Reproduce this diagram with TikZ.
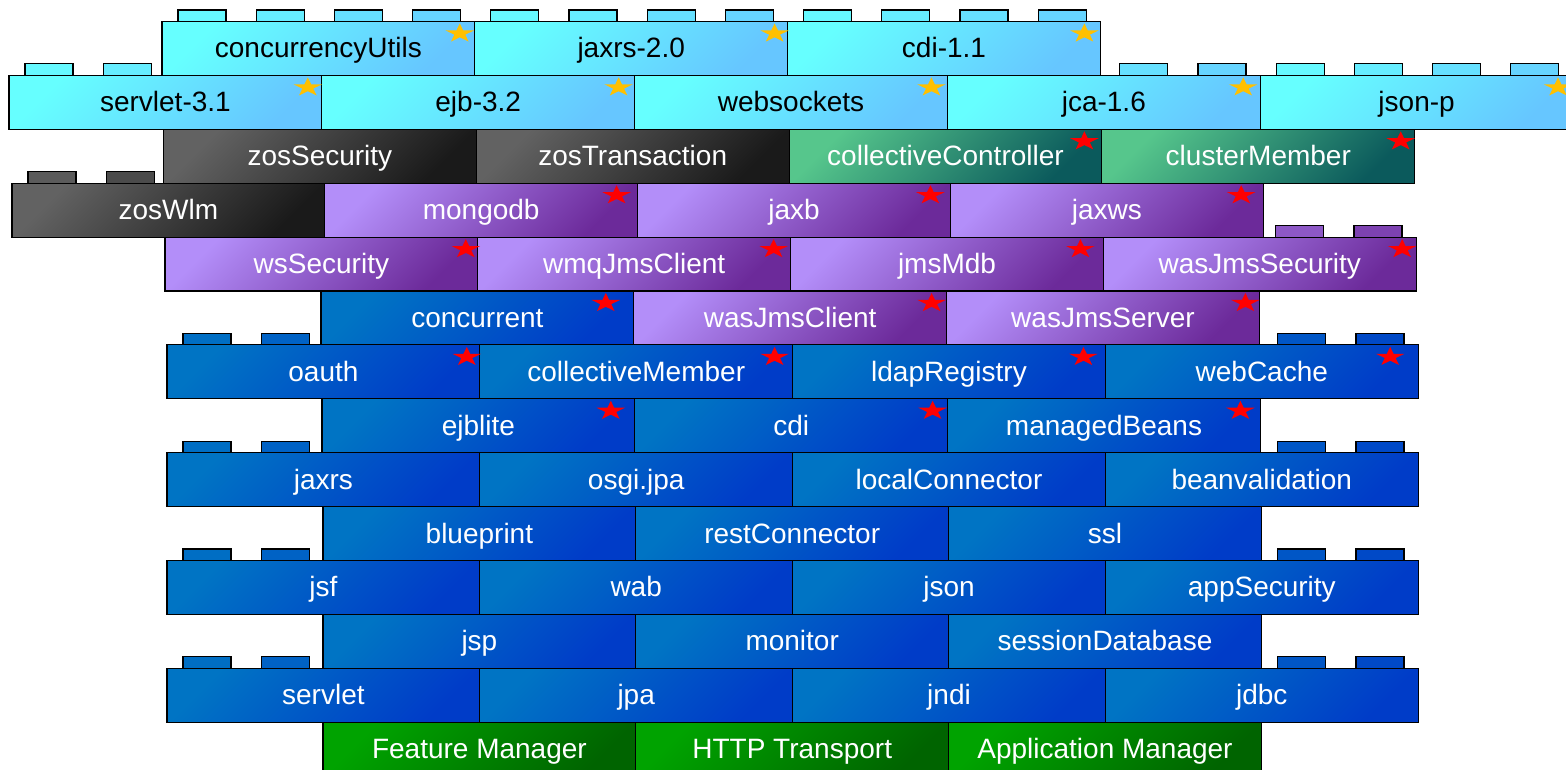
\documentclass[tikz,border=0pt]{standalone}
\usepackage{fontspec}
\setmainfont{Liberation Sans}
\definecolor{cyL}{HTML}{66FFFF}\definecolor{cyD}{HTML}{66C6FF}
\definecolor{grL}{HTML}{626262}\definecolor{grD}{HTML}{1A1A1A}
\definecolor{tlL}{HTML}{56C68C}\definecolor{tlD}{HTML}{0B5A5C}
\definecolor{puL}{HTML}{B38EF9}\definecolor{puD}{HTML}{6C2A9A}
\definecolor{blL}{HTML}{0074C4}\definecolor{blD}{HTML}{003CC8}
\definecolor{gnL}{HTML}{00A300}\definecolor{gnD}{HTML}{006400}
\definecolor{starY}{HTML}{FFC000}\definecolor{starR}{HTML}{FF0000}
\tikzset{
  brick/.style={draw=black, line width=1.1pt, minimum width=312.8pt, minimum height=53.9pt,
    anchor=north west, inner sep=0pt, outer sep=0pt, font=\fontsize{28}{30}\selectfont,
    text height=23pt, text depth=4pt, text=white},
  cyanb/.style={brick, top color=cyL, bottom color=cyD, shading angle=45, text=black},
  grayb/.style={brick, top color=grL, bottom color=grD, shading angle=45},
  tealb/.style={brick, top color=tlL, bottom color=tlD, shading angle=45},
  purpb/.style={brick, top color=puL, bottom color=puD, shading angle=45},
  blueb/.style={brick, top color=blL, bottom color=blD, shading angle=45},
  greenb/.style={brick, top color=gnL, bottom color=gnD, shading angle=45},
  studbox/.style={draw=black, line width=1.1pt},
  starshape/.pic={\fill[pic actions] (270:15 and 10) -- (306:5.73 and 3.82) -- (342:15 and 10)
     -- (18:5.73 and 3.82) -- (54:15 and 10) -- (90:5.73 and 3.82) -- (126:15 and 10)
     -- (162:5.73 and 3.82) -- (198:15 and 10) -- (234:5.73 and 3.82) -- cycle;},
}
\newcommand\studs[5]{%
  \foreach \i in {#3} {
    \pgfmathsetmacro\sx{#2+16+78.2*\i}
    \pgfmathtruncatemacro\pc{10+22*\i}
    \draw[studbox, fill=#5!\pc!#4] (\sx,#1) rectangle ++(48,-11.5);
  }%
}
\newcommand\brickrow[3]{%
  \foreach \nm/\lb/\st/\sc/\so [count=\c from 0] in {#3} {
    \pgfmathsetmacro\bx{#2+\c*312.8}
    \node[\st] (\nm) at (\bx,#1) {\lb};
  }%
  \foreach \nm/\lb/\st/\sc/\so in {#3} {
    \pic[fill=\sc] at ([shift={(-\so,12)}]\nm.north east) {starshape};
  }%
}
\begin{document}
\begin{tikzpicture}[x=1pt,y=-1pt]
\fill[white] (0,0) rectangle (1566,770);
\useasboundingbox (0,0) rectangle (1566,770);
% row 1
\studs{21.5}{162}{0,1,2,3}{cyL}{cyD}
\studs{21.5}{474.8}{0,1,2,3}{cyL}{cyD}
\studs{21.5}{787.6}{0,1,2,3}{cyL}{cyD}
\brickrow{21.5}{162}{r1a/concurrencyUtils/cyanb/starY/15, r1b/jaxrs-2.0/cyanb/starY/13, r1c/cdi-1.1/cyanb/starY/16}
% row 2
\studs{75.4}{9}{0,1}{cyL}{cyD}
\studs{75.4}{947.4}{2,3}{cyL}{cyD}
\studs{75.4}{1260.2}{0,1,2,3}{cyL}{cyD}
\brickrow{75.4}{9}{r2a/servlet-3.1/cyanb/starY/14, r2b/ejb-3.2/cyanb/starY/16, r2c/websockets/cyanb/starY/16, r2d/jca-1.6/cyanb/starY/17, r2e/json-p/cyanb/starY/15}
% row 3
\brickrow{129.3}{163.5}{r3a/zosSecurity/grayb/none/0, r3b/zosTransaction/grayb/none/0, r3c/collectiveController/tealb/starR/17.5, r3d/clusterMember/tealb/starR/14}
% row 4
\studs{183.2}{12}{0,1}{grL}{grD}
\brickrow{183.2}{12}{r4a/zosWlm/grayb/none/0, r4b/mongodb/purpb/starR/21, r4c/jaxb/purpb/starR/20, r4d/jaxws/purpb/starR/22}
% row 5
\studs{237.1}{1103.4}{2,3}{puL}{puD}
\brickrow{237.1}{165}{r5a/wsSecurity/purpb/starR/12, r5b/wmqJmsClient/purpb/starR/17, r5c/jmsMdb/purpb/starR/23, r5d/wasJmsSecurity/purpb/starR/14}
% row 6
\brickrow{291}{321}{r6a/concurrent/blueb/starR/28, r6b/wasJmsClient/purpb/starR/15, r6c/wasJmsServer/purpb/starR/14}
% row 7
\studs{344.9}{167}{0,1}{blL}{blD}
\studs{344.9}{1105.4}{2,3}{blL}{blD}
\brickrow{344.9}{167}{r7a/oauth/blueb/starR/13, r7b/collectiveMember/blueb/starR/18, r7c/ldapRegistry/blueb/starR/22, r7d/webCache/blueb/starR/28}
% row 8
\brickrow{398.8}{322}{r8a/ejblite/blueb/starR/24, r8b/cdi/blueb/starR/15, r8c/managedBeans/blueb/starR/20}
% row 9
\studs{452.7}{167}{0,1}{blL}{blD}
\studs{452.7}{1105.4}{2,3}{blL}{blD}
\brickrow{452.7}{167}{r9a/jaxrs/blueb/none/0, r9b/osgi.jpa/blueb/none/0, r9c/localConnector/blueb/none/0, r9d/beanvalidation/blueb/none/0}
% row 10
\brickrow{506.6}{323}{r10a/blueprint/blueb/none/0, r10b/restConnector/blueb/none/0, r10c/ssl/blueb/none/0}
% row 11
\studs{560.5}{167}{0,1}{blL}{blD}
\studs{560.5}{1105.4}{2,3}{blL}{blD}
\brickrow{560.5}{167}{r11a/jsf/blueb/none/0, r11b/wab/blueb/none/0, r11c/json/blueb/none/0, r11d/appSecurity/blueb/none/0}
% row 12
\brickrow{614.4}{323}{r12a/jsp/blueb/none/0, r12b/monitor/blueb/none/0, r12c/sessionDatabase/blueb/none/0}
% row 13
\studs{668.3}{167}{0,1}{blL}{blD}
\studs{668.3}{1105.4}{2,3}{blL}{blD}
\brickrow{668.3}{167}{r13a/servlet/blueb/none/0, r13b/jpa/blueb/none/0, r13c/jndi/blueb/none/0, r13d/jdbc/blueb/none/0}
% row 14
\brickrow{722.2}{323}{r14a/Feature Manager/greenb/none/0, r14b/HTTP Transport/greenb/none/0, r14c/Application Manager/greenb/none/0}
\end{tikzpicture}
\end{document}
